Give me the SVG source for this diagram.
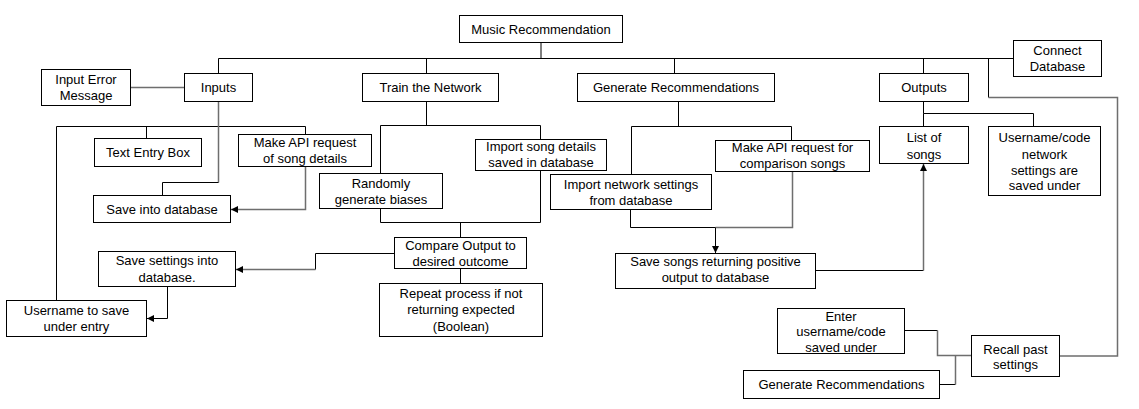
<svg xmlns="http://www.w3.org/2000/svg" width="1139" height="409" viewBox="0 0 1139 409">
<style>
rect{fill:#fff;stroke:#000;stroke-width:1}
text{font-family:"Liberation Sans",Arial,sans-serif;font-size:13px;fill:#000;text-anchor:middle}
.c{fill:none;stroke:#000;stroke-width:1}
.g{fill:none;stroke:#6e6e6e;stroke-width:1.5}
</style>
<defs>
<marker id="ah" markerUnits="userSpaceOnUse" markerWidth="8" markerHeight="8" refX="7" refY="3.5" orient="auto">
<path d="M0,0 L7,3.5 L0,7 z" fill="#000"/>
</marker>
</defs>
<rect x="0" y="0" width="1139" height="409" style="fill:#fff;stroke:none"/>
<g id="connectors">
<path class="c" d="M541,42.5 V58.5"/>
<path class="c" d="M218.5,73.5 V58.5 H1013.5"/>
<path class="c" d="M426.5,58.5 V73.5"/>
<path class="c" d="M674.5,58.5 V73.5"/>
<path class="c" d="M923.5,58.5 V73.5"/>
<path class="c" d="M988.5,58.5 V97.5"/>
<path class="g" d="M988.5,97.5 H1117.5 V356 H1059.5"/>
<path class="g" d="M130.5,87.5 H184.5"/>
<path class="c" d="M56.5,300.5 V126.5 H305.5 V134.5"/>
<path class="c" d="M146.5,126.5 V138.5"/>
<path class="g" d="M218.5,101.5 V182.5"/>
<path class="c" d="M218.5,182.5 H162.5 V195.5"/>
<path class="g" d="M305.5,166.5 V209.5 H231" marker-end="url(#ah)"/>
<path class="c" d="M167.5,286.5 V318.5 H147" marker-end="url(#ah)"/>
<path class="c" d="M394.5,253.5 H315.5 V269.5"/>
<path class="g" d="M315.5,269.5 H236" marker-end="url(#ah)"/>
<path class="c" d="M426.5,101.5 V125.5"/>
<path class="c" d="M380.5,173.5 V125.5 H540.5 V139.5"/>
<path class="c" d="M380.5,208.5 V222.5 H540.5 V170.5"/>
<path class="c" d="M460.5,222.5 V237.5"/>
<path class="c" d="M460.5,268.5 V283.5"/>
<path class="c" d="M678.5,101.5 V126.5"/>
<path class="c" d="M631.5,174.5 V126.5 H791.5 V140.5"/>
<path class="c" d="M630.5,209.5 V227.5 H715.5"/>
<path class="g" d="M715.5,227.5 H792.5 V171.5"/>
<path class="c" d="M715.5,227.5 V253" marker-end="url(#ah)"/>
<path class="c" d="M815.5,270.5 H923.5"/>
<path class="g" d="M923.5,270.5 V164" marker-end="url(#ah)"/>
<path class="c" d="M923.5,101.5 V113.5 H1033.5 V126.5"/>
<path class="c" d="M923.5,113.5 V126.5"/>
<path class="c" d="M904.5,330.5 H937.5"/>
<path class="g" d="M937.5,330.5 V355.5 H971.5"/>
<path class="c" d="M939.5,384.5 H955.5"/>
<path class="g" d="M955.5,384.5 V355.5"/>
</g>
<g id="music"><rect x="459.5" y="15.5" width="163" height="27"/><text x="541" y="33.5">Music Recommendation</text></g>
<g id="inputs"><rect x="184.5" y="73.5" width="68" height="28"/><text x="218.5" y="92">Inputs</text></g>
<g id="inputError"><rect x="41.5" y="69.5" width="89" height="36"/><text x="86" y="84">Input Error</text><text x="86" y="100.3">Message</text></g>
<g id="train"><rect x="362.5" y="73.5" width="136" height="28"/><text x="430.5" y="92">Train the Network</text></g>
<g id="genRec"><rect x="577.5" y="73.5" width="197" height="28"/><text x="676" y="92">Generate Recommendations</text></g>
<g id="outputs"><rect x="879.5" y="73.5" width="89" height="28"/><text x="924" y="92">Outputs</text></g>
<g id="connectDB"><rect x="1013.5" y="40.5" width="88" height="36"/><text x="1057.5" y="55">Connect</text><text x="1057.5" y="71.3">Database</text></g>
<g id="textEntry"><rect x="94.5" y="138.5" width="107" height="28"/><text x="148" y="157">Text Entry Box</text></g>
<g id="makeAPI"><rect x="238.5" y="134.5" width="133" height="32"/><text x="305" y="147">Make API request</text><text x="305" y="163.2">of song details</text></g>
<g id="saveDB"><rect x="93.5" y="195.5" width="137" height="27"/><text x="162" y="213.5">Save into database</text></g>
<g id="saveSettings"><rect x="98.5" y="251.5" width="137" height="35"/><text x="167" y="265.3">Save settings into</text><text x="167" y="281.5">database.</text></g>
<g id="usernameSave"><rect x="6.5" y="300.5" width="140" height="36"/><text x="76.5" y="314.6">Username to save</text><text x="76.5" y="331">under entry</text></g>
<g id="randomly"><rect x="319.5" y="173.5" width="123" height="35"/><text x="381" y="187.8">Randomly</text><text x="381" y="203.5">generate biases</text></g>
<g id="importSong"><rect x="475.5" y="139.5" width="131" height="31"/><text x="541" y="151.2">Import song details</text><text x="541" y="167.2">saved in database</text></g>
<g id="compare"><rect x="394.5" y="237.5" width="132" height="31"/><text x="460.5" y="249.5">Compare Output to</text><text x="460.5" y="265.5">desired outcome</text></g>
<g id="repeat"><rect x="379.5" y="283.5" width="163" height="53"/><text x="461" y="297.8">Repeat process if not</text><text x="461" y="314.2">returning expected</text><text x="461" y="330.8">(Boolean)</text></g>
<g id="importNet"><rect x="550.5" y="174.5" width="161" height="35"/><text x="631" y="188.8">Import network settings</text><text x="631" y="204.5">from database</text></g>
<g id="makeAPIcomp"><rect x="715.5" y="140.5" width="154" height="31"/><text x="792.5" y="152.2">Make API request for</text><text x="792.5" y="167.8">comparison songs</text></g>
<g id="saveSongs"><rect x="615.5" y="253.5" width="200" height="35"/><text x="715.5" y="266.2">Save songs returning positive</text><text x="715.5" y="282.2">output to database</text></g>
<g id="listSongs"><rect x="879.5" y="126.5" width="89" height="37"/><text x="924" y="141.8">List of</text><text x="924" y="158.5">songs</text></g>
<g id="usernameCode"><rect x="988.5" y="126.5" width="112" height="69"/><text x="1044.5" y="141.8">Username/code</text><text x="1044.5" y="158.5">network</text><text x="1044.5" y="174.5">settings are</text><text x="1044.5" y="190.2">saved under</text></g>
<g id="enter"><rect x="777.5" y="308.5" width="127" height="45"/><text x="841" y="320.5">Enter</text><text x="841" y="336.2">username/code</text><text x="841" y="351.5">saved under</text></g>
<g id="recall"><rect x="971.5" y="335.5" width="88" height="41"/><text x="1015.5" y="353.5">Recall past</text><text x="1015.5" y="369.2">settings</text></g>
<g id="genRec2"><rect x="743.5" y="370.5" width="196" height="28"/><text x="841.5" y="389">Generate Recommendations</text></g>
</svg>
